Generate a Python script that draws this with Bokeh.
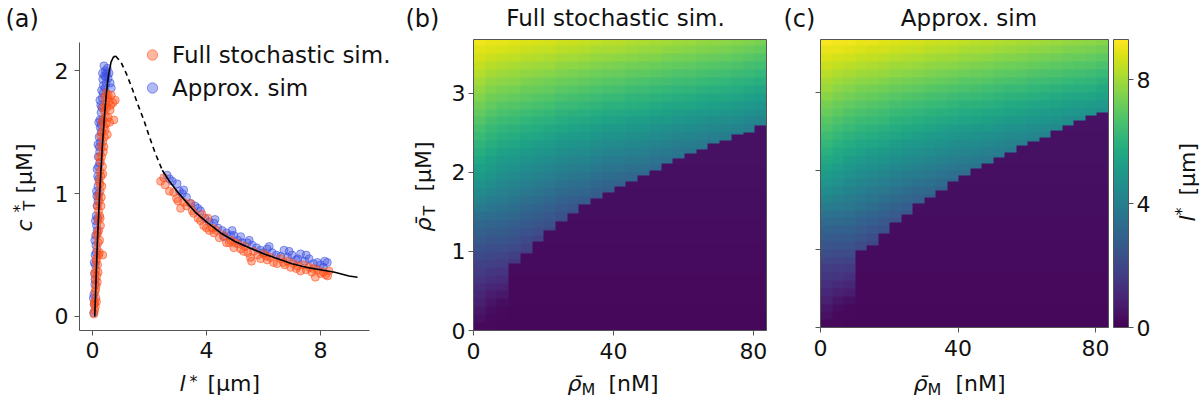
import numpy as np
from bokeh.plotting import figure
from bokeh.layouts import row
from bokeh.models import FixedTicker, Label, Legend, LegendItem, LinearAxis, LinearColorMapper
from bokeh.palettes import Viridis256
from bokeh.embed import file_html
from bokeh.resources import INLINE

FONT = "DejaVu Sans"
INK = "#111111"
SPINE = "#555555"
H = 402

# ---------------- panel (a): threshold concentration vs. length ----------------
theory_rise_l = [0.08, 0.11, 0.14, 0.17, 0.21, 0.25, 0.3, 0.35, 0.41, 0.48, 0.56, 0.65, 0.73, 0.81]
theory_rise_c = [0.0, 0.2, 0.4, 0.6, 0.8, 1.0, 1.2, 1.4, 1.6, 1.8, 1.96, 2.07, 2.11, 2.12]
theory_unstable_l = [0.81, 1.0, 1.2, 1.4, 1.6, 1.8, 2.0, 2.2, 2.45]
theory_unstable_c = [2.12, 2.07, 1.97, 1.85, 1.72, 1.6, 1.46, 1.33, 1.19]
theory_fall_l = [2.45, 2.7, 3.0, 3.3, 3.6, 4.0, 4.5, 5.0, 5.5, 6.0, 6.5, 7.0, 7.5, 8.0, 8.5, 9.0, 9.3]
theory_fall_c = [1.19, 1.1, 1.01, 0.93, 0.85, 0.77, 0.68, 0.61, 0.56, 0.51, 0.47, 0.43, 0.4, 0.38, 0.36, 0.33, 0.32]

full_sim_l = [0.05, 0.08, 0.1, 0.07, 0.12, 0.09, 0.13, 0.1, 0.15, 0.12, 0.18, 0.14, 0.22, 0.16, 0.2,
              0.25, 0.15, 0.22, 0.28, 0.19, 0.25, 0.21, 0.3, 0.24, 0.2, 0.27, 0.33, 0.23, 0.3, 0.26,
              0.35, 0.28, 0.32, 0.38, 0.3, 0.36, 0.42, 0.33, 0.4, 0.48, 0.37, 0.45, 0.55, 0.42, 0.5,
              0.62, 0.45, 0.58, 0.72, 0.52, 0.66, 0.8, 0.48, 0.75, 0.36,
              0.06, 0.14, 0.11, 0.17, 0.08, 0.2, 0.13, 0.24, 0.18, 0.27, 0.17, 0.31, 0.26, 0.36, 0.24,
              0.4, 0.29, 0.45, 0.52, 0.34, 0.6, 0.38, 0.64, 0.55, 0.43,
              2.39, 2.55, 2.7, 2.85, 2.95, 3.09, 3.2, 3.3, 3.44, 3.55, 3.7, 3.79, 3.9, 4.0, 4.1,
              4.26, 4.35, 4.45, 4.6, 4.7, 4.85, 4.96, 5.1, 5.2, 5.35, 5.45, 5.54, 5.65, 5.8, 5.9,
              6.0, 6.13, 6.25, 6.35, 6.48, 6.6, 6.75, 6.85, 6.95, 7.05, 7.15, 7.3, 7.4, 7.5, 7.6,
              7.7, 7.82, 7.9, 8.0, 8.1, 8.18, 8.3, 5.58, 4.05,
              2.5, 3.0, 3.5, 4.2, 4.8, 5.3, 6.1, 6.7, 7.2, 7.75, 8.25, 5.0, 3.85]
full_sim_c = [0.02, 0.05, 0.08, 0.12, 0.15, 0.2, 0.25, 0.3, 0.33, 0.38, 0.42, 0.47, 0.5, 0.55, 0.6,
              0.62, 0.66, 0.7, 0.74, 0.78, 0.82, 0.86, 0.9, 0.94, 0.98, 1.02, 1.06, 1.1, 1.14, 1.18,
              1.22, 1.26, 1.3, 1.34, 1.38, 1.42, 1.46, 1.5, 1.54, 1.57, 1.6, 1.63, 1.62, 1.67, 1.7,
              1.68, 1.73, 1.75, 1.74, 1.78, 1.8, 1.76, 1.82, 1.6, 0.5,
              0.1, 0.12, 0.22, 0.28, 0.35, 0.36, 0.45, 0.52, 0.68, 0.8, 0.9, 0.97, 1.08, 1.16, 1.3,
              1.38, 1.47, 1.52, 1.48, 1.58, 1.58, 1.7, 1.72, 1.8, 1.78,
              1.1, 1.07, 1.02, 1.01, 0.96, 0.88, 0.93, 0.9, 0.92, 0.84, 0.8, 0.78, 0.74, 0.72, 0.7,
              0.68, 0.7, 0.64, 0.66, 0.6, 0.62, 0.56, 0.59, 0.55, 0.57, 0.52, 0.48, 0.53, 0.5, 0.47,
              0.51, 0.46, 0.48, 0.44, 0.43, 0.47, 0.42, 0.45, 0.4, 0.43, 0.39, 0.37, 0.42, 0.38, 0.4,
              0.36, 0.32, 0.38, 0.35, 0.36, 0.34, 0.37, 0.45, 0.8,
              1.13, 0.94, 0.86, 0.72, 0.6, 0.53, 0.49, 0.44, 0.41, 0.39, 0.33, 0.6, 0.83]

approx_sim_l = [0.04, 0.06, 0.05, 0.08, 0.07, 0.1, 0.09, 0.12, 0.11, 0.14, 0.13, 0.16, 0.15, 0.19, 0.18,
                0.21, 0.2, 0.24, 0.23, 0.27, 0.26, 0.3, 0.29, 0.34, 0.32, 0.38, 0.36, 0.42, 0.45, 0.4,
                0.5, 0.55, 0.62, 0.48, 0.3, 0.25, 0.22, 0.35, 0.28, 0.18,
                0.03, 0.09, 0.06, 0.13, 0.08, 0.16, 0.1, 0.19, 0.14, 0.22, 0.16, 0.25, 0.19, 0.3, 0.22,
                0.33, 0.26, 0.38, 0.44, 0.35, 0.52, 0.58, 0.66, 0.47,
                2.62, 2.8, 2.97, 3.15, 3.3, 3.45, 3.6, 3.79, 3.95, 4.1, 4.26, 4.4, 4.55, 4.7, 4.85,
                4.96, 5.1, 5.25, 5.43, 5.6, 5.75, 5.9, 6.0, 6.13, 6.3, 6.45, 6.6, 6.72, 6.85, 7.0,
                7.15, 7.3, 7.45, 7.6, 7.75, 7.89, 8.0, 8.1, 8.24, 3.05, 4.6,
                2.7, 3.2, 3.7, 4.3, 4.9, 5.5, 6.2, 6.9, 7.5, 8.15, 5.2, 7.2]
approx_sim_c = [0.03, 0.1, 0.18, 0.26, 0.35, 0.42, 0.5, 0.58, 0.66, 0.74, 0.82, 0.9, 0.98, 1.06, 1.14,
                1.22, 1.3, 1.38, 1.46, 1.54, 1.6, 1.66, 1.72, 1.78, 1.84, 1.88, 1.93, 1.96, 2.0, 2.04,
                1.98, 1.94, 1.9, 1.9, 1.5, 1.25, 1.0, 1.6, 1.42, 0.8,
                0.15, 0.3, 0.44, 0.52, 0.62, 0.7, 0.78, 0.94, 1.02, 1.12, 1.2, 1.34, 1.4, 1.56, 1.58,
                1.7, 1.76, 1.82, 1.86, 1.98, 2.02, 1.98, 1.86, 1.95,
                1.15, 1.1, 1.08, 1.0, 0.97, 0.92, 0.9, 0.86, 0.8, 0.77, 0.76, 0.72, 0.7, 0.68, 0.66,
                0.66, 0.62, 0.6, 0.6, 0.58, 0.56, 0.54, 0.52, 0.55, 0.52, 0.5, 0.49, 0.54, 0.48, 0.5,
                0.46, 0.51, 0.45, 0.47, 0.43, 0.44, 0.42, 0.4, 0.44, 1.02, 0.65,
                1.12, 1.03, 0.88, 0.79, 0.7, 0.62, 0.57, 0.53, 0.5, 0.45, 0.65, 0.47]

# ---------------- panels (b), (c): l* over the (rho_M, rho_T) plane ----------------
rho_M_edges = [0, 3.35, 6.7, 10.05, 13.4, 16.75, 20.1, 23.45, 26.8, 30.15, 33.5, 36.85, 40.2,
               43.55, 46.9, 50.25, 53.6, 56.95, 60.3, 63.65, 67.0, 70.35, 73.7, 77.05, 80.4, 83.75]
# rows listed from the top of the plane downwards
rho_T_edges = [3.68, 3.6, 3.5, 3.4, 3.3, 3.2, 3.1, 3.0, 2.9, 2.8, 2.7, 2.6, 2.5, 2.4, 2.3, 2.2,
               2.1, 2.0, 1.9, 1.8, 1.7, 1.6, 1.5, 1.4, 1.3, 1.2, 1.1, 1.0, 0.9, 0.8, 0.7, 0.6,
               0.5, 0.4, 0.3, 0.2, 0.1, 0.0]
# l* of the collapsed state (below the transition), per row
collapsed_lstar = [0.55, 0.54, 0.53, 0.52, 0.51, 0.5, 0.49, 0.48, 0.47, 0.46, 0.45, 0.44, 0.43,
                   0.42, 0.41, 0.4, 0.39, 0.38, 0.37, 0.36, 0.35, 0.34, 0.33, 0.32, 0.31, 0.3,
                   0.29, 0.28, 0.27, 0.26, 0.25, 0.24, 0.23, 0.22, 0.21, 0.2, 0.19]

# rho_T of the transition in each rho_M column; per column, l* from the top row down to it
full_boundary = [0, 0, 0, 0.85, 0.97, 1.12, 1.27, 1.38, 1.48, 1.59, 1.67, 1.75, 1.82, 1.89, 1.96,
                 2.02, 2.11, 2.18, 2.24, 2.29, 2.36, 2.40, 2.48, 2.51, 2.59]
full_lstar = [
    [9.1, 8.9, 8.7, 8.45, 8.25, 8.0, 7.8, 7.55, 7.3, 7.05, 6.8, 6.55, 6.3, 6.05, 5.8, 5.55, 5.3,
     5.05, 4.75, 4.45, 4.15, 3.8, 3.45, 3.15, 2.85, 2.6, 2.35, 2.1, 1.85, 1.6, 1.4, 1.2, 1.0, 0.8,
     0.6, 0.4, 0.25],
    [9.0, 8.8, 8.55, 8.3, 8.05, 7.8, 7.55, 7.3, 7.05, 6.8, 6.55, 6.3, 6.05, 5.8, 5.55, 5.3, 5.05,
     4.8, 4.55, 4.25, 3.95, 3.65, 3.35, 3.05, 2.75, 2.5, 2.25, 2.0, 1.75, 1.5, 1.25, 1.0, 0.75,
     0.5, 0.35, 0.25, 0.22],
    [8.95, 8.72, 8.46, 8.2, 7.94, 7.68, 7.42, 7.16, 6.9, 6.64, 6.38, 6.12, 5.86, 5.6, 5.34, 5.08,
     4.82, 4.56, 4.3, 4.04, 3.78, 3.52, 3.26, 3.0, 2.74, 2.48, 2.22, 1.96, 1.7, 1.44, 1.18, 0.9,
     0.6, 0.35, 0.25, 0.22, 0.2],
    [8.9, 8.66, 8.4, 8.13, 7.87, 7.6, 7.34, 7.07, 6.81, 6.54, 6.28, 6.01, 5.75, 5.48, 5.22, 4.95,
     4.69, 4.42, 4.16, 3.89, 3.63, 3.36, 3.1, 2.83, 2.57, 2.3, 2.04, 1.77, 1.51],
    [8.8, 8.56, 8.29, 8.02, 7.75, 7.48, 7.21, 6.94, 6.67, 6.4, 6.13, 5.86, 5.59, 5.32, 5.05, 4.78,
     4.51, 4.24, 3.97, 3.7, 3.43, 3.16, 2.89, 2.62, 2.35, 2.08, 1.81, 1.54],
    [8.75, 8.5, 8.23, 7.95, 7.68, 7.4, 7.13, 6.85, 6.58, 6.3, 6.03, 5.75, 5.48, 5.2, 4.93, 4.65,
     4.38, 4.1, 3.83, 3.55, 3.28, 3.0, 2.73, 2.45, 2.18, 1.9],
    [8.7, 8.45, 8.17, 7.89, 7.61, 7.33, 7.05, 6.77, 6.49, 6.21, 5.93, 5.65, 5.37, 5.09, 4.81, 4.53,
     4.25, 3.97, 3.69, 3.41, 3.13, 2.85, 2.57, 2.29, 2.01],
    [8.6, 8.34, 8.06, 7.77, 7.49, 7.2, 6.92, 6.63, 6.35, 6.06, 5.78, 5.49, 5.21, 4.92, 4.64, 4.35,
     4.07, 3.78, 3.5, 3.21, 2.93, 2.64, 2.36, 2.07],
    [8.55, 8.29, 8.0, 7.71, 7.42, 7.13, 6.84, 6.55, 6.26, 5.97, 5.68, 5.39, 5.1, 4.81, 4.52, 4.23,
     3.94, 3.65, 3.36, 3.07, 2.78, 2.49, 2.2],
    [8.5, 8.24, 7.95, 7.66, 7.37, 7.08, 6.79, 6.5, 6.21, 5.92, 5.63, 5.34, 5.05, 4.76, 4.47, 4.18,
     3.89, 3.6, 3.31, 3.02, 2.73, 2.44],
    [8.4, 8.13, 7.84, 7.54, 7.25, 6.95, 6.66, 6.36, 6.07, 5.77, 5.48, 5.18, 4.89, 4.59, 4.3, 4.0,
     3.71, 3.41, 3.12, 2.82, 2.53],
    [8.35, 8.08, 7.78, 7.48, 7.18, 6.88, 6.58, 6.28, 5.98, 5.68, 5.38, 5.08, 4.78, 4.48, 4.18,
     3.88, 3.58, 3.28, 2.98, 2.68],
    [8.3, 8.03, 7.73, 7.43, 7.13, 6.83, 6.53, 6.23, 5.93, 5.63, 5.33, 5.03, 4.73, 4.43, 4.13, 3.83,
     3.53, 3.23, 2.93],
    [8.2, 7.93, 7.63, 7.33, 7.03, 6.73, 6.43, 6.13, 5.83, 5.53, 5.23, 4.93, 4.63, 4.33, 4.03, 3.73,
     3.43, 3.13, 2.83],
    [8.15, 7.88, 7.58, 7.28, 6.98, 6.68, 6.38, 6.08, 5.78, 5.48, 5.18, 4.88, 4.58, 4.28, 3.98,
     3.68, 3.38, 3.08],
    [8.1, 7.83, 7.52, 7.22, 6.91, 6.61, 6.3, 6.0, 5.69, 5.39, 5.08, 4.78, 4.47, 4.17, 3.86, 3.56,
     3.25],
    [8.0, 7.73, 7.42, 7.12, 6.81, 6.51, 6.2, 5.9, 5.59, 5.29, 4.98, 4.68, 4.37, 4.07, 3.76, 3.46],
    [7.95, 7.67, 7.36, 7.05, 6.74, 6.43, 6.12, 5.81, 5.5, 5.19, 4.88, 4.57, 4.26, 3.95, 3.64, 3.33],
    [7.9, 7.62, 7.31, 7.0, 6.69, 6.38, 6.07, 5.76, 5.45, 5.14, 4.83, 4.52, 4.21, 3.9, 3.59],
    [7.8, 7.52, 7.21, 6.9, 6.59, 6.28, 5.97, 5.66, 5.35, 5.04, 4.73, 4.42, 4.11, 3.8, 3.49],
    [7.75, 7.47, 7.15, 6.84, 6.52, 6.21, 5.89, 5.58, 5.26, 4.95, 4.63, 4.32, 4.0, 3.69],
    [7.7, 7.42, 7.1, 6.79, 6.47, 6.16, 5.84, 5.53, 5.21, 4.9, 4.58, 4.27, 3.95],
    [7.6, 7.32, 7.0, 6.69, 6.37, 6.06, 5.74, 5.43, 5.11, 4.8, 4.48, 4.17, 3.85],
    [7.5, 7.21, 6.89, 6.57, 6.25, 5.93, 5.61, 5.29, 4.97, 4.65, 4.33, 4.01],
    [7.4, 7.11, 6.79, 6.47, 6.15, 5.83, 5.51, 5.19, 4.87, 4.55, 4.23, 3.91],
]

approx_boundary = [0, 0, 0, 0.98, 1.05, 1.2, 1.34, 1.45, 1.58, 1.66, 1.75, 1.86, 1.94, 2.03, 2.09,
                   2.17, 2.24, 2.32, 2.38, 2.43, 2.52, 2.58, 2.65, 2.71, 2.75]
approx_lstar = [
    [9.2, 9.0, 8.8, 8.55, 8.35, 8.1, 7.9, 7.65, 7.4, 7.15, 6.9, 6.65, 6.4, 6.15, 5.9, 5.65, 5.4,
     5.15, 4.85, 4.55, 4.25, 3.9, 3.55, 3.25, 2.95, 2.7, 2.45, 2.2, 1.95, 1.7, 1.5, 1.3, 1.05,
     0.85, 0.6, 0.4, 0.25],
    [9.15, 8.95, 8.7, 8.45, 8.2, 7.95, 7.7, 7.45, 7.2, 6.95, 6.7, 6.45, 6.2, 5.95, 5.7, 5.45, 5.2,
     4.95, 4.7, 4.4, 4.1, 3.8, 3.5, 3.2, 2.9, 2.65, 2.4, 2.15, 1.9, 1.65, 1.4, 1.1, 0.85, 0.55,
     0.35, 0.25, 0.22],
    [9.1, 8.87, 8.61, 8.35, 8.09, 7.83, 7.57, 7.31, 7.05, 6.79, 6.53, 6.27, 6.01, 5.75, 5.49, 5.23,
     4.97, 4.71, 4.45, 4.19, 3.93, 3.67, 3.41, 3.15, 2.89, 2.63, 2.37, 2.11, 1.85, 1.59, 1.3, 1.0,
     0.7, 0.4, 0.25, 0.22, 0.2],
    [9.0, 8.76, 8.5, 8.23, 7.97, 7.7, 7.44, 7.17, 6.91, 6.64, 6.38, 6.11, 5.85, 5.58, 5.32, 5.05,
     4.79, 4.52, 4.26, 3.99, 3.73, 3.46, 3.2, 2.93, 2.67, 2.4, 2.14, 1.87],
    [8.95, 8.71, 8.44, 8.17, 7.9, 7.63, 7.36, 7.09, 6.82, 6.55, 6.28, 6.01, 5.74, 5.47, 5.2, 4.93,
     4.66, 4.39, 4.12, 3.85, 3.58, 3.31, 3.04, 2.77, 2.5, 2.23, 1.96],
    [8.9, 8.65, 8.38, 8.1, 7.83, 7.55, 7.28, 7.0, 6.73, 6.45, 6.18, 5.9, 5.63, 5.35, 5.08, 4.8,
     4.53, 4.25, 3.98, 3.7, 3.43, 3.15, 2.88, 2.6, 2.33],
    [8.8, 8.55, 8.27, 7.99, 7.71, 7.43, 7.15, 6.87, 6.59, 6.31, 6.03, 5.75, 5.47, 5.19, 4.91, 4.63,
     4.35, 4.07, 3.79, 3.51, 3.23, 2.95, 2.67, 2.39],
    [8.75, 8.49, 8.21, 7.92, 7.64, 7.35, 7.07, 6.78, 6.5, 6.21, 5.93, 5.64, 5.36, 5.07, 4.79, 4.5,
     4.22, 3.93, 3.65, 3.36, 3.08, 2.79, 2.51],
    [8.7, 8.44, 8.15, 7.86, 7.57, 7.28, 6.99, 6.7, 6.41, 6.12, 5.83, 5.54, 5.25, 4.96, 4.67, 4.38,
     4.09, 3.8, 3.51, 3.22, 2.93, 2.64],
    [8.6, 8.34, 8.05, 7.76, 7.47, 7.18, 6.89, 6.6, 6.31, 6.02, 5.73, 5.44, 5.15, 4.86, 4.57, 4.28,
     3.99, 3.7, 3.41, 3.12, 2.83],
    [8.55, 8.28, 7.99, 7.69, 7.4, 7.1, 6.81, 6.51, 6.22, 5.92, 5.63, 5.33, 5.04, 4.74, 4.45, 4.15,
     3.86, 3.56, 3.27, 2.97],
    [8.5, 8.23, 7.93, 7.63, 7.33, 7.03, 6.73, 6.43, 6.13, 5.83, 5.53, 5.23, 4.93, 4.63, 4.33, 4.03,
     3.73, 3.43, 3.13],
    [8.4, 8.13, 7.83, 7.53, 7.23, 6.93, 6.63, 6.33, 6.03, 5.73, 5.43, 5.13, 4.83, 4.53, 4.23, 3.93,
     3.63, 3.33],
    [8.35, 8.08, 7.78, 7.48, 7.18, 6.88, 6.58, 6.28, 5.98, 5.68, 5.38, 5.08, 4.78, 4.48, 4.18,
     3.88, 3.58],
    [8.3, 8.03, 7.72, 7.42, 7.11, 6.81, 6.5, 6.2, 5.89, 5.59, 5.28, 4.98, 4.67, 4.37, 4.06, 3.76,
     3.45],
    [8.2, 7.93, 7.62, 7.32, 7.01, 6.71, 6.4, 6.1, 5.79, 5.49, 5.18, 4.88, 4.57, 4.27, 3.96, 3.66],
    [8.15, 7.87, 7.56, 7.25, 6.94, 6.63, 6.32, 6.01, 5.7, 5.39, 5.08, 4.77, 4.46, 4.15, 3.84],
    [8.1, 7.82, 7.51, 7.2, 6.89, 6.58, 6.27, 5.96, 5.65, 5.34, 5.03, 4.72, 4.41, 4.1],
    [8.0, 7.72, 7.4, 7.09, 6.77, 6.46, 6.14, 5.83, 5.51, 5.2, 4.88, 4.57, 4.25, 3.94],
    [7.95, 7.67, 7.35, 7.04, 6.72, 6.41, 6.09, 5.78, 5.46, 5.15, 4.83, 4.52, 4.2],
    [7.9, 7.61, 7.29, 6.97, 6.65, 6.33, 6.01, 5.69, 5.37, 5.05, 4.73, 4.41],
    [7.8, 7.51, 7.19, 6.87, 6.55, 6.23, 5.91, 5.59, 5.27, 4.95, 4.63, 4.31],
    [7.75, 7.46, 7.13, 6.81, 6.48, 6.16, 5.83, 5.51, 5.18, 4.86, 4.53],
    [7.7, 7.41, 7.08, 6.76, 6.43, 6.11, 5.78, 5.46, 5.13, 4.81],
    [7.6, 7.3, 6.97, 6.64, 6.31, 5.98, 5.65, 5.32, 4.99, 4.66],
]

LSTAR_MAX = 9.3
lstar_mapper = LinearColorMapper(palette=Viridis256, low=0, high=LSTAR_MAX)


def lstar_image(boundary, lstar, rows=368, rep=12):
    """Raster of the table; below a column's transition the collapsed value is shown."""
    top = rho_T_edges[0]
    n_rows = len(rho_T_edges) - 1
    img = np.empty((rows, len(boundary) * rep))
    for i in range(rows):
        y = (i + 0.5) * top / rows
        r = next(k for k in range(n_rows) if rho_T_edges[k + 1] <= y)
        for j, b in enumerate(boundary):
            col = lstar[j]
            v = col[r] if (r < len(col) and y >= b) else collapsed_lstar[r]
            img[i, j * rep:(j + 1) * rep] = v
    return img


def panel(width, xlim, ylim, box):
    """Figure whose plotting area fills the canvas; the axes box sits at `box`
    (left, right, top, bottom in canvas pixels)."""
    left, right, top, bottom = box
    sx = (right - left) / (xlim[1] - xlim[0])
    sy = (bottom - top) / (ylim[1] - ylim[0])
    x0 = xlim[0] - left / sx
    y0 = ylim[0] - (H - bottom) / sy
    p = figure(width=width, height=H, x_range=(x0, x0 + width / sx), y_range=(y0, y0 + H / sy),
               output_backend="svg", toolbar_location=None,
               min_border_left=0, min_border_right=0, min_border_top=0, min_border_bottom=0)
    p.title.visible = False
    p.outline_line_color = None
    p.grid.visible = False
    return p


def style_axis(ax, ticks, standoff, loc, bounds):
    ax.ticker = FixedTicker(ticks=ticks)
    ax.fixed_location = loc
    ax.bounds = bounds
    ax.major_label_text_font = FONT
    ax.major_label_text_font_size = "22px"
    ax.major_label_text_color = INK
    ax.major_label_standoff = standoff
    ax.axis_line_color = SPINE
    ax.major_tick_line_color = SPINE
    ax.major_tick_out = 5
    ax.major_tick_in = 0
    ax.minor_tick_out = 0
    ax.minor_tick_in = 0
    ax.axis_label = None


def spine(p, side, loc, bounds):
    ax = LinearAxis(ticker=FixedTicker(ticks=[]), fixed_location=loc, bounds=bounds,
                    axis_line_color=SPINE, major_label_text_font_size="0px",
                    major_tick_line_color=None, minor_tick_line_color=None)
    p.add_layout(ax, side)


UP = np.pi / 2


def put(p, text, x, y, size=22, style="normal", angle=0.0, align="left"):
    """Text whose baseline starts at (x, y), pixels from the figure's left / bottom edge."""
    shift = 0.34 * size
    if angle:
        x -= shift
    else:
        y += shift
    p.add_layout(Label(x=x, y=y, x_units="screen", y_units="screen", text=text,
                       text_font=FONT, text_font_size=f"{size}px", text_font_style=style,
                       text_color=INK, angle=angle, text_align=align,
                       text_baseline="middle"))


RHO_BAR = "\u03c1\u0304"

# ---------------- (a) ----------------
A_X = (-0.456, 9.72)
A_Y = (-0.114, 2.23)
pa = panel(400, A_X, A_Y, (79, 369, 42, 330))
style_axis(pa.xaxis[0], [0, 4, 8], 6, A_Y[0], A_X)
style_axis(pa.yaxis[0], [0, 1, 2], 6, A_X[0], A_Y)

r_approx = pa.scatter(approx_sim_l, approx_sim_c, size=8, marker="circle",
                      fill_color="#3b4fe0", fill_alpha=0.4, line_color="#3b4fe0", line_alpha=0.55)
r_full = pa.scatter(full_sim_l, full_sim_c, size=8, marker="circle",
                    fill_color="#ff4a14", fill_alpha=0.4, line_color="#ff4a14", line_alpha=0.55)
pa.line(theory_rise_l, theory_rise_c, line_color="black", line_width=1.6)
pa.line(theory_unstable_l, theory_unstable_c, line_color="black", line_width=1.6, line_dash="5 4")
pa.line(theory_fall_l, theory_fall_c, line_color="black", line_width=1.6)

legend = Legend(items=[LegendItem(label="Full stochastic sim.", renderers=[r_full]),
                       LegendItem(label="Approx. sim", renderers=[r_approx])],
                location=(139, 298), orientation="vertical", border_line_color=None,
                background_fill_alpha=0, padding=0, margin=0, spacing=0,
                glyph_width=26, glyph_height=33, label_height=33, label_standoff=7,
                label_text_font=FONT, label_text_font_size="23px", label_text_color=INK)
pa.add_layout(legend)

put(pa, "(a)", 5, 375, size=24)
put(pa, "l", 179, 12, style="italic")
put(pa, "*", 189, 16, size=16)
put(pa, "[\u03bcm]", 207, 12)
put(pa, "c", 31, 171, style="italic", angle=UP)
put(pa, "*", 24, 190, size=16, angle=UP)
put(pa, "T", 34, 192, size=16, angle=UP)
put(pa, "[\u03bcM]", 31, 209, angle=UP)

# ---------------- (b) ----------------
M_LIM = (rho_M_edges[0], rho_M_edges[-1])
T_LIM = (rho_T_edges[-1], rho_T_edges[0])

pb = panel(380, M_LIM, T_LIM, (73, 366, 39, 330))
pb.image(image=[lstar_image(full_boundary, full_lstar)], x=M_LIM[0], y=T_LIM[0],
         dw=M_LIM[1] - M_LIM[0], dh=T_LIM[1] - T_LIM[0], color_mapper=lstar_mapper)
style_axis(pb.xaxis[0], [0, 40, 80], 7, T_LIM[0], M_LIM)
style_axis(pb.yaxis[0], [0, 1, 2, 3], 3, M_LIM[0], T_LIM)
spine(pb, "above", T_LIM[1], M_LIM)
spine(pb, "right", M_LIM[1], T_LIM)

put(pb, "(b)", 5, 375, size=24)
put(pb, "Full stochastic sim.", 215, 377, size=23, align="center")
put(pb, RHO_BAR, 167, 12, style="italic")
put(pb, "M", 181, 8, size=16)
put(pb, "[nM]", 208, 12)
put(pb, RHO_BAR, 30, 171, style="italic", angle=UP)
put(pb, "T", 34, 187, size=16, angle=UP)
put(pb, "[\u03bcM]", 30, 211, angle=UP)

# ---------------- (c) ----------------
pc = panel(330, M_LIM, T_LIM, (40, 328, 39, 327))
pc.image(image=[lstar_image(approx_boundary, approx_lstar)], x=M_LIM[0], y=T_LIM[0],
         dw=M_LIM[1] - M_LIM[0], dh=T_LIM[1] - T_LIM[0], color_mapper=lstar_mapper)
style_axis(pc.xaxis[0], [0, 40, 80], 7, T_LIM[0], M_LIM)
style_axis(pc.yaxis[0], [0, 1, 2, 3], 3, M_LIM[0], T_LIM)
pc.yaxis[0].major_label_overrides = {0: "", 1: "", 2: "", 3: ""}
spine(pc, "above", T_LIM[1], M_LIM)
spine(pc, "right", M_LIM[1], T_LIM)

put(pc, "(c)", 3, 375, size=24)
put(pc, "Approx. sim", 188.5, 377, size=23, align="center")
put(pc, RHO_BAR, 133, 12, style="italic")
put(pc, "M", 147, 8, size=16)
put(pc, "[nM]", 175, 12)

# ---------------- colour bar ----------------
cbar_levels = np.linspace(0, LSTAR_MAX, 256).reshape(256, 1)
pd_ = panel(92, (0, 1), (0, LSTAR_MAX), (3, 18, 39, 327))
pd_.image(image=[cbar_levels], x=0, y=0, dw=1, dh=LSTAR_MAX, color_mapper=lstar_mapper)
pd_.yaxis[0].visible = False
pd_.xaxis[0].visible = False
cax = LinearAxis()
pd_.add_layout(cax, "right")
style_axis(cax, [0, 4, 8], 3, 1, (0, LSTAR_MAX))
spine(pd_, "left", 0, (0, LSTAR_MAX))
spine(pd_, "above", LSTAR_MAX, (0, 1))
spine(pd_, "below", 0, (0, 1))

put(pd_, "l", 84, 181, style="italic", angle=UP)
put(pd_, "*", 76, 187, size=16, angle=UP)
put(pd_, "[\u03bcm]", 84, 207, angle=UP)

layout = row(pa, pb, pc, pd_)
open("out.html", "w").write(file_html(layout, INLINE))
